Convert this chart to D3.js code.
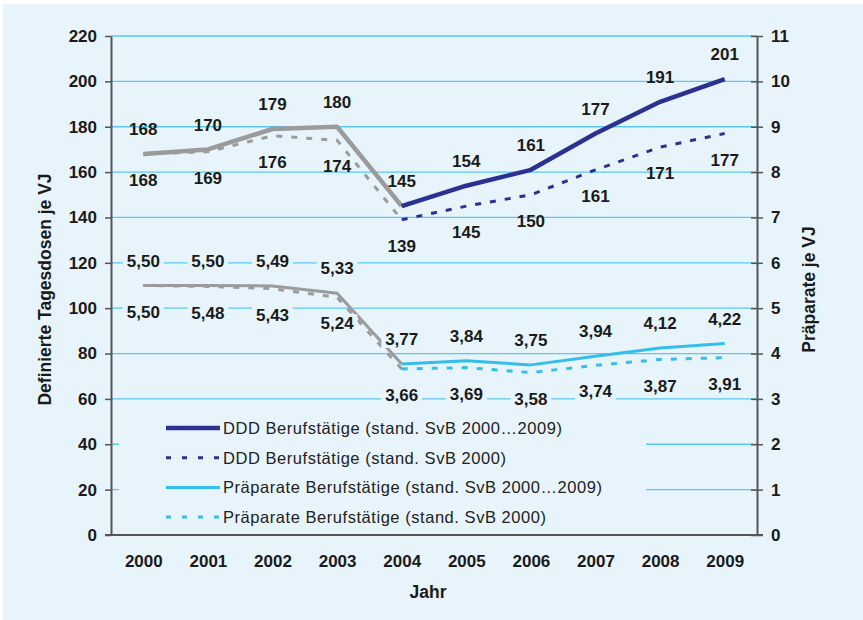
<!DOCTYPE html>
<html>
<head>
<meta charset="utf-8">
<script src="https://cdn.jsdelivr.net/npm/d3@7"></script>
<style>
  html, body { margin: 0; padding: 0; background: #fff; }
  svg { display: block; font-family: "Liberation Sans", Arial, sans-serif; }
</style>
</head>
<body>
<svg id="chart" width="863" height="620"></svg>
<script>
// Categories
const years = ['2000', '2001', '2002', '2003', '2004', '2005', '2006', '2007', '2008', '2009'];

// Defined daily doses per insured year (left axis)
const dddActual = [168, 170, 179, 180, 145, 154, 161, 177, 191, 201];
const dddBase = [168, 169, 176, 174, 139, 145, 150, 161, 171, 177];

// Preparations per insured year (right axis)
const prepActual = [5.50, 5.50, 5.49, 5.33, 3.77, 3.84, 3.75, 3.94, 4.12, 4.22];
const prepBase = [5.50, 5.48, 5.43, 5.24, 3.66, 3.69, 3.58, 3.74, 3.87, 3.91];

const legendLabels = [
  'DDD Berufstätige (stand. SvB 2000…2009)',
  'DDD Berufstätige (stand. SvB 2000)',
  'Präparate Berufstätige (stand. SvB 2000…2009)',
  'Präparate Berufstätige (stand. SvB 2000)'
];

const bg = '#e8f4fb';
const grid = '#5ac8ef';
const grey = '#9b9b9b';
const navy = '#2b3190';
const cyan = '#35bdec';
const axisColor = '#555';
const ink = '#1a1a1a';

const svg = d3.select('#chart');

// Panel background with the thin white margin top and left
svg.append('rect').attr('width', 863).attr('height', 620).attr('fill', '#fff');
svg.append('rect').attr('x', 3).attr('y', 4).attr('width', 860).attr('height', 616).attr('fill', bg);

const plot = {left: 111, right: 757, top: 36, bottom: 535};

const x = d3.scalePoint().domain(years).range([plot.left, plot.right]).padding(0.5);
const yLeft = d3.scaleLinear().domain([0, 220]).range([plot.bottom, plot.top]);
const yRight = d3.scaleLinear().domain([0, 11]).range([plot.bottom, plot.top]);

// Gridlines
svg.append('g').selectAll('line')
  .data(yLeft.ticks(11).filter((d) => d > 0))
  .join('line')
    .attr('x1', plot.left).attr('x2', plot.right)
    .attr('y1', (d) => yLeft(d)).attr('y2', (d) => yLeft(d))
    .attr('stroke', grid).attr('stroke-width', 1.3);

// Draws a series in two parts: grey until 2004, coloured afterwards
function drawSeries(values, scale, color, width, dashed) {
  const line = d3.line().x((d, i) => x(years[i])).y((d) => scale(d));
  const parts = [
    {pts: values.map((v, i) => (i <= 4 ? v : null)), color: grey},
    {pts: values.map((v, i) => (i >= 4 ? v : null)), color: color}
  ];
  parts.forEach((part) => {
    svg.append('path')
      .attr('d', line.defined((d) => d !== null)(part.pts))
      .attr('fill', 'none')
      .attr('stroke', part.color)
      .attr('stroke-width', width)
      .attr('stroke-dasharray', dashed ? '6,9' : null)
      .attr('stroke-linejoin', 'round');
  });
}

drawSeries(dddBase, yLeft, navy, 3, true);
drawSeries(dddActual, yLeft, navy, 4.5, false);
drawSeries(prepBase, yRight, cyan, 3, true);
drawSeries(prepActual, yRight, cyan, 3, false);

// Data labels: solid series above, dashed series below
function drawLabels(values, scale, dy, format, filled) {
  const g = svg.append('g')
    .attr('font-size', 17).attr('font-weight', 'bold').attr('fill', ink);
  values.forEach((v, i) => {
    const cx = x(years[i]);
    const cy = scale(v) + dy;
    const txt = format(v);
    if (filled) {
      const w = txt.length * 9.2 + 4;
      g.append('rect')
        .attr('x', cx - w / 2).attr('y', cy - 9)
        .attr('width', w).attr('height', 18)
        .attr('fill', bg);
    }
    g.append('text')
      .attr('x', cx).attr('y', cy)
      .attr('dy', '0.36em')
      .attr('text-anchor', 'middle')
      .text(txt);
  });
}

const comma = (v) => v.toFixed(2).replace('.', ',');
drawLabels(dddActual, yLeft, -25, (v) => String(v), false);
drawLabels(dddBase, yLeft, 26, (v) => String(v), false);
drawLabels(prepActual, yRight, -25, comma, true);
drawLabels(prepBase, yRight, 26, comma, true);

// Legend with its own background covering the gridlines
const legend = svg.append('g');
legend.append('rect')
  .attr('x', 119).attr('y', 408).attr('width', 527).attr('height', 124)
  .attr('fill', bg);
const legendStyles = [
  {color: navy, width: 4.5, dash: null},
  {color: navy, width: 3, dash: '5,11'},
  {color: cyan, width: 3, dash: null},
  {color: cyan, width: 3, dash: '5,11'}
];
const legendWidths = [339, 283, 379, 323];
legendLabels.forEach((label, i) => {
  const ly = 428 + i * 29.7;
  legend.append('line')
    .attr('x1', 166).attr('x2', 220).attr('y1', ly).attr('y2', ly)
    .attr('stroke', legendStyles[i].color)
    .attr('stroke-width', legendStyles[i].width)
    .attr('stroke-dasharray', legendStyles[i].dash);
  legend.append('text')
    .attr('x', 223).attr('y', ly).attr('dy', '0.36em')
    .attr('font-size', 16.5).attr('fill', '#222')
    .attr('textLength', legendWidths[i]).attr('lengthAdjust', 'spacing')
    .text(label);
});

// Axes
const leftAxis = svg.append('g')
  .attr('transform', `translate(${plot.left},0)`)
  .call(d3.axisLeft(yLeft).ticks(11).tickSize(6).tickSizeOuter(0).tickPadding(8));

const rightAxis = svg.append('g')
  .attr('transform', `translate(${plot.right},0)`)
  .call(d3.axisRight(yRight).ticks(11).tickSize(6).tickSizeOuter(0).tickPadding(8));
// Right ticks cross the axis line
rightAxis.selectAll('.tick line').attr('x1', -6);

const bottomAxis = svg.append('g')
  .attr('transform', `translate(0,${plot.bottom})`)
  .call(d3.axisBottom(x).tickSize(0).tickPadding(20));
bottomAxis.select('.domain').attr('d', `M${plot.left - 6},0H${plot.right + 6}`);

[leftAxis, rightAxis, bottomAxis].forEach((axis) => {
  axis.select('.domain').attr('stroke', axisColor).attr('stroke-width', 2);
  axis.selectAll('.tick line').attr('stroke', axisColor).attr('stroke-width', 1.5);
  axis.selectAll('.tick text')
    .attr('font-size', 17).attr('font-weight', 'bold').attr('fill', ink)
    .attr('font-family', '"Liberation Sans", Arial, sans-serif');
});

// Axis titles
svg.append('text')
  .attr('transform', `translate(45,${(plot.top + plot.bottom) / 2 + 4}) rotate(-90)`)
  .attr('text-anchor', 'middle').attr('dy', '0.36em')
  .attr('font-size', 17.5).attr('font-weight', 'bold').attr('fill', ink)
  .text('Definierte Tagesdosen je VJ');

svg.append('text')
  .attr('transform', `translate(809,${(plot.top + plot.bottom) / 2 + 4}) rotate(-90)`)
  .attr('text-anchor', 'middle').attr('dy', '0.36em')
  .attr('font-size', 17.5).attr('font-weight', 'bold').attr('fill', ink)
  .text('Präparate je VJ');

svg.append('text')
  .attr('x', (plot.left + plot.right) / 2 - 6).attr('y', 592).attr('dy', '0.36em')
  .attr('text-anchor', 'middle')
  .attr('font-size', 17.5).attr('font-weight', 'bold').attr('fill', ink)
  .text('Jahr');
</script>
</body>
</html>
